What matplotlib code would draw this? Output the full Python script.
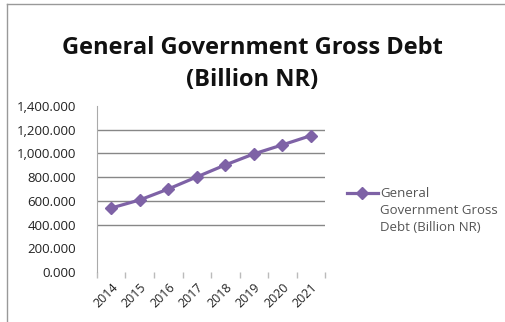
import matplotlib
matplotlib.use("Agg")
import matplotlib.pyplot as plt
from matplotlib.lines import Line2D
from matplotlib.legend_handler import HandlerLine2D
from matplotlib.ticker import FuncFormatter, FixedLocator

# ── Data ───────────────────────────────────────────────────────
YEARS = ["2014", "2015", "2016", "2017", "2018", "2019", "2020", "2021"]
DEBT = [540, 608, 700, 802, 903, 996, 1072, 1150]
Y_TICKS = [0, 200, 400, 600, 800, 1000, 1200, 1400]
SERIES_LABEL = "General\nGovernment Gross\nDebt (Billion NR)"
TITLE = "General Government Gross Debt\n(Billion NR)"
# ───────────────────────────────────────────────────────────────

PURPLE = "#7E62A6"
GRID = "#878787"
FONT = "Open Sans"
LEGEND_SIZE = 9.5
LEGEND_SPACING = 1.4

plt.rcParams["font.family"] = [FONT, "DejaVu Sans"]


class FirstLineHandler(HandlerLine2D):
    """Put the legend swatch level with the first line of a wrapped label."""

    def create_artists(self, legend, orig_handle, xdescent, ydescent,
                       width, height, fontsize, trans):
        lift = 2 * fontsize * LEGEND_SPACING
        return super().create_artists(legend, orig_handle, xdescent,
                                      ydescent - lift, width, height,
                                      fontsize, trans)


fig = plt.figure(figsize=(5.05, 3.22), dpi=100)
ax = fig.add_axes([0.192, 0.155, 0.452, 0.516])

x = [i + 0.5 for i in range(len(YEARS))]
line, = ax.plot(x, DEBT, color=PURPLE, linewidth=2.3, marker="D",
                markersize=6, markeredgecolor=PURPLE, label=SERIES_LABEL)

ax.set_xlim(0, len(YEARS))
ax.set_ylim(Y_TICKS[0], Y_TICKS[-1])

# category labels centred, tick marks on the boundaries
ax.xaxis.set_major_locator(FixedLocator(x))
ax.set_xticklabels(YEARS, rotation=45, ha="right", rotation_mode="anchor",
                   fontsize=9, color="#222222")
ax.tick_params(axis="x", which="major", length=0, pad=6)
ax.xaxis.set_minor_locator(FixedLocator(range(len(YEARS) + 1)))
ax.tick_params(axis="x", which="minor", length=4, color="#bbbbbb", width=1)

ax.set_yticks(Y_TICKS)
ax.yaxis.set_major_formatter(FuncFormatter(lambda v, _: f"{v:,.3f}"))
ax.tick_params(axis="y", length=0, pad=15, labelsize=9.5, labelcolor="#222222")

ax.grid(axis="y", color=GRID, linewidth=1)
ax.set_axisbelow(True)
# the bottom and top rules are not drawn
for gl, v in zip(ax.yaxis.get_gridlines(), Y_TICKS):
    if v in (0, 200, 1400):
        gl.set_visible(False)

for side in ("top", "right", "bottom"):
    ax.spines[side].set_visible(False)
ax.spines["left"].set_color("#aaaaaa")

fig.text(0.5, 0.8, TITLE, ha="center", va="center", fontsize=17,
         fontweight="bold", linespacing=1.45, color="#111111")

leg = ax.legend(handles=[line], loc="center left",
                bbox_to_anchor=(0.664, 0.345),
                bbox_transform=fig.transFigure, frameon=False,
                fontsize=LEGEND_SIZE, handlelength=2.3, handletextpad=0.2,
                labelcolor="#555555",
                handler_map={Line2D: FirstLineHandler()})
for t in leg.get_texts():
    t.set_linespacing(LEGEND_SPACING)

# chart frame on the top and left edges
fig.add_artist(Line2D([0.014, 1.0], [0.988, 0.988], color="#999999", lw=1))
fig.add_artist(Line2D([0.014, 0.014], [0.0, 0.988], color="#999999", lw=1))

fig.savefig("out.png", dpi=100)
